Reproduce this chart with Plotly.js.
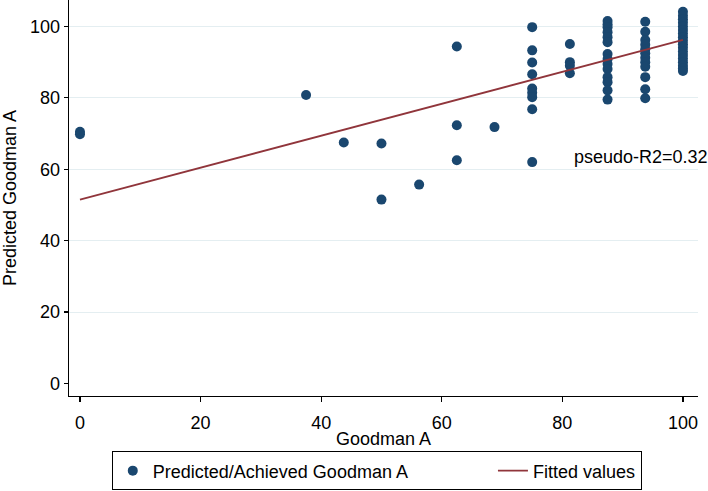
<!DOCTYPE html>
<html>
<head>
<meta charset="utf-8">
<script src="https://cdn.plot.ly/plotly-3.0.1.min.js"></script>
<style>
  html, body { margin: 0; padding: 0; background: #fff; }
  #chart { width: 708px; height: 491px; }
</style>
</head>
<body>
<div id="chart"></div>
<script>
// Achieved Goodman A (x) vs predicted Goodman A (y)
const goodmanA = [
  0, 0,
  37.5,
  43.75,
  50, 50,
  56.25,
  62.5, 62.5, 62.5,
  68.75,
  75, 75, 75, 75, 75, 75, 75, 75, 75,
  81.25, 81.25, 81.25, 81.25,
  87.5, 87.5, 87.5, 87.5, 87.5, 87.5, 87.5, 87.5, 87.5, 87.5, 87.5, 87.5, 87.5, 87.5,
  93.75, 93.75, 93.75, 93.75, 93.75, 93.75, 93.75, 93.75, 93.75, 93.75, 93.75, 93.75,
  100, 100, 100, 100, 100, 100, 100, 100, 100, 100, 100, 100, 100, 100, 100, 100, 100, 100
];
const predictedA = [
  70.5, 69.8,
  80.8,
  67.5,
  67.2, 51.5,
  55.7,
  94.4, 72.3, 62.5,
  71.8,
  99.8, 93.3, 89.9, 86.6, 82.6, 81.4, 80.2, 76.8, 62.0,
  95.1, 90.0, 89.0, 86.9,
  101.5, 100.6, 99.8, 98.4, 97.0, 95.6, 92.3, 90.9, 89.5, 88.1, 85.8, 84.4, 82.1, 79.5,
  101.3, 98.5, 96.2, 94.9, 93.6, 92.5, 91.2, 90.0, 88.7, 85.8, 82.4, 79.9,
  104.1, 103.0, 102.0, 101.0, 100.0, 99.0, 98.0, 97.0, 96.0, 95.0, 94.0, 93.0, 92.0, 91.0, 90.0, 89.0, 88.2, 87.5
];

// fitted line end points
const fitX = [0, 100];
const fitY = [51.5, 96.2];

const xTicks = [0, 20, 40, 60, 80, 100];
const yTicks = [0, 20, 40, 60, 80, 100];
const gridTicks = [20, 40, 60, 80, 100];

const FONT = 'Liberation Sans, Arial, sans-serif';
// trailing non-breaking spaces widen the first legend entry like the original
const PAD = '&nbsp;'.repeat(16);

const scatter = {
  type: 'scatter', mode: 'markers',
  x: goodmanA, y: predictedA,
  name: 'Predicted/Achieved Goodman A' + PAD,
  marker: { size: 10, color: '#1a476f' },
  hoverinfo: 'x+y'
};

const fitted = {
  type: 'scatter', mode: 'lines',
  x: fitX, y: fitY,
  name: 'Fitted values',
  line: { color: '#90353b', width: 1.8 },
  hoverinfo: 'skip'
};

const layout = {
  width: 708, height: 491,
  margin: { l: 69, r: 10, t: 0, b: 95 },
  paper_bgcolor: '#ffffff', plot_bgcolor: '#ffffff',
  font: { family: FONT, size: 18, color: '#000' },
  showlegend: true,
  legend: {
    orientation: 'h',
    x: 0.068, xanchor: 'left',
    y: -0.14, yanchor: 'top',
    bordercolor: '#000', borderwidth: 1,
    font: { family: FONT, size: 18, color: '#000' }
  },
  xaxis: {
    range: [-1.82, 102.5],
    tickvals: xTicks,
    ticks: 'outside', ticklen: 5, tickcolor: '#000', tickwidth: 1.2,
    ticklabelstandoff: 5,
    showline: true, linecolor: '#000', linewidth: 1.3,
    showgrid: false, zeroline: false,
    title: { text: 'Goodman A', font: { family: FONT, size: 18 }, standoff: 0 },
    automargin: false
  },
  yaxis: {
    range: [-3.5, 107.4],
    tickvals: yTicks,
    ticks: 'outside', ticklen: 4, tickcolor: '#000', tickwidth: 1.2,
    showline: true, linecolor: '#000', linewidth: 1.3,
    showgrid: false, zeroline: false,
    tickangle: 0,
    title: { text: 'Predicted Goodman A', font: { family: FONT, size: 18 }, standoff: 8 },
    automargin: false
  },
  // second y axis only carries the light grid lines (none at 0)
  yaxis2: {
    overlaying: 'y', matches: 'y',
    tickvals: gridTicks, showticklabels: false, ticks: '',
    showgrid: true, gridcolor: '#e4eef1', gridwidth: 1,
    showline: false, zeroline: false
  },
  annotations: [{
    x: 81.6, y: 63.4, xref: 'x', yref: 'y',
    text: 'pseudo-R2=0.32', showarrow: false,
    xanchor: 'left', yanchor: 'middle',
    font: { family: FONT, size: 18, color: '#000' }
  }]
};

const gridHolder = {
  type: 'scatter', mode: 'markers', x: [], y: [], yaxis: 'y2',
  showlegend: false, hoverinfo: 'skip'
};

Plotly.newPlot('chart', [gridHolder, scatter, fitted], layout, { displayModeBar: false, staticPlot: true });
</script>
</body>
</html>
